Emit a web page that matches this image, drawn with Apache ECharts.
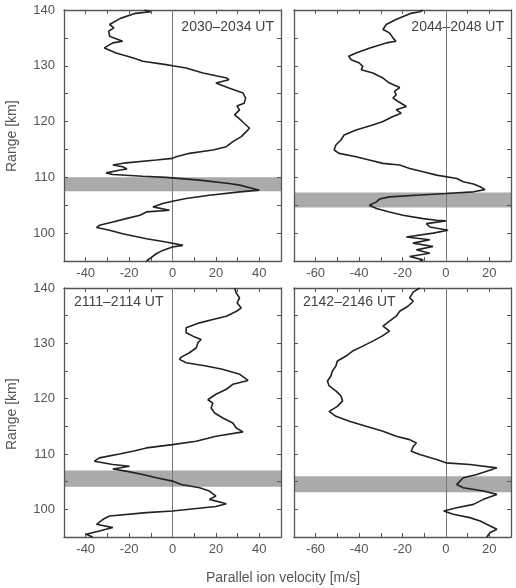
<!DOCTYPE html>
<html>
<head>
<meta charset="utf-8">
<script src="https://cdn.jsdelivr.net/npm/echarts@6/dist/echarts.min.js"></script>
<style>
html,body{margin:0;padding:0;background:#fff}
#chart{width:516px;height:588px}
</style>
</head>
<body>
<div id="chart"></div>
<script>
// altitude (km) and parallel ion velocity (m/s), one pair of arrays per panel
const range1 = [140,139.7,139.4,138.5,137.4,136.8,136.2,135.3,134.4,134.1,133.2,132.3,131.4,130.8,130.2,130,129.6,128.7,127.8,127.5,126.9,126,125.1,124.2,123.3,122.8,122.1,121.2,120.6,119.7,118.8,118.2,117.3,116.4,115.5,114.9,114.3,113.7,113.4,113.1,112.6,112.2,111.9,111.5,111.3,110.8,110.5,110.2,110,109.5,108.9,108.6,108,107.7,107.4,106.8,106.2,105.7,105.3,104.7,104.1,103.8,103.2,102.6,102,101.4,101,100.5,99.9,99,98.4,97.8,97.5,96.9,96.3,95.4,95]
const vel1 = [-13,-10,-17,-24,-29,-27,-29.4,-29,-23,-27.5,-31.4,-26,-18,-13.7,-3,0,6.3,14,25,26,20,26,32.5,33.7,33,29.7,30.9,28.6,30.5,33,35.5,34,31.7,27.8,24.8,18.6,7.8,1.7,0,-7.5,-21.4,-27.5,-23,-21,-24,-30.6,-27.5,-13.7,-3,12.5,26,31,37,40,31,17,6.3,0,-4.5,-9,-1.4,-12,-15,-21.4,-27.5,-33.7,-35,-29,-23,-12,-3,4.8,0,-4.5,-7.5,-10.6,-12]

const range2 = [140,139.7,139.4,138.3,137.4,136.5,135.9,135,134.4,134.1,133.2,132.3,131.7,131.1,130.5,129.9,129.3,128.7,127.8,126.9,126.1,125.4,124.8,124.2,123.6,122.7,122.1,121.5,120.9,120,119.4,118.5,117.6,116.7,115.8,114.9,114.3,113.7,113.1,112.5,112.2,111.6,111,110.4,109.8,109.2,108.8,108.3,107.8,107.4,107.1,106.8,106.5,106.1,105.6,105,104.4,103.8,103.2,102.6,102.3,102.2,101.7,101.1,100.5,100,99.3,98.8,98.2,97.6,97,96.4,95.8,95.2,95]
const vel2 = [-10.5,-12,-16,-23,-27.5,-29,-26,-24.4,-23,-27.5,-35,-41.4,-44.8,-43.6,-39.9,-38.3,-39,-33.7,-29,-26,-21.3,-23.7,-22.9,-24.4,-22,-18.2,-22.9,-20.6,-24.4,-29,-33.7,-41.4,-46.9,-48.4,-50.7,-51.5,-49.2,-41.4,-35.3,-29,-21.3,-16.7,-10.5,-4.3,5,8,12.7,15.8,18,12.7,0,-13.6,-26,-30.6,-32,-35.3,-32,-26,-19.8,-10.5,-4.3,0,-9,-7.4,1,-5.9,-18.2,-7.4,-15.2,-5.9,-13.6,-7.4,-16.7,-10.5,-12]

const range3 = [140,139.1,138.2,137.3,136.4,135.8,134.9,134.3,133.7,132.8,131.9,131.3,130.7,130.1,129.2,128.3,127.5,127.1,126.5,125.9,125.3,124.4,123.3,122.6,121.7,120.8,119.8,119.2,118.3,117.4,116.5,115.6,114.7,114,113.2,112.3,111.7,111.1,110.5,110,109.3,108.7,108.1,107.8,107.3,106.9,106.3,105.7,105.1,104.5,103.9,103.3,102.4,101.8,101,100.5,99.7,99.4,98.8,98.2,97.3,96.7,96.1,95.5,95]
const vel3 = [28.6,29.4,30.9,29.8,31.7,29.5,24.8,18.6,12.5,6.3,6.3,9.4,13.2,11.7,11,7.8,4,3.2,6.3,15.5,23,31,34.8,27.8,24.8,20,16.3,18.6,17.8,19.4,23.2,27.8,29.4,32.5,20,10.9,0,-12,-18.3,-24.5,-33.7,-36,-27.5,-19.8,-27.5,-21.4,-13.7,-7.5,0,4,12.5,17,20,17,24.8,20,0,-12,-29,-32,-35,-27.5,-33.7,-39.8,-36.8]

const range4 = [140,139.3,138.2,137.6,136.7,135.8,134.9,134,133.1,132.2,131.3,130.4,129.5,128.6,127.7,126.8,125.9,125,124.1,123.2,122.3,121.4,120.5,119.6,118.6,117.7,116.8,115.9,115,114.1,113.2,112.6,112,111.4,110.5,109.9,109,108.4,108.1,107.5,106.9,106.3,105.7,105.1,104.5,103.9,103.3,102.7,101.8,100.9,100.3,99.7,99.1,98.5,97.9,97,96.4,95.8,95]
const vel4 = [-12,-15,-16.7,-15,-17.5,-21.3,-22.9,-26,-29,-26,-29.4,-33.7,-38.3,-43,-46,-50,-50.7,-52.3,-53,-54.6,-53.8,-50.7,-48.4,-47.6,-50,-53.8,-50.7,-44.5,-36.8,-29,-22.9,-16.7,-13.6,-15,-16,-12,-4.3,0,11,23.5,18.8,14.2,8,6.5,5,8,17.3,23.5,17.3,12.7,5,-1,3.4,11,15.8,20.4,23.5,20.4,18.8]

// shaded altitude bands [bottom, top] per panel
const bands = [[107.5,110],[104.6,107.3],[104.1,107],[103.1,106]]
const titles = ['2030–2034 UT','2044–2048 UT','2111–2114 UT','2142–2146 UT']
const xMins = [-50,-70,-50,-70]
const xMaxs = [50,30,50,30]

const ranges = [range1,range2,range3,range4]
const vels = [vel1,vel2,vel3,vel4]

const gridPos = [
    {left:64,top:10,width:217,height:251},
    {left:294,top:10,width:217,height:251},
    {left:64,top:288,width:217,height:249},
    {left:294,top:288,width:217,height:249}
]

const frameColor = '#555'
const labelStyle = {color:'#555',fontSize:13,fontFamily:'Liberation Sans, Arial, sans-serif'}

const grids = []
const xAxes = []
const yAxes = []
const series = []

gridPos.forEach((g,i)=>{
    grids.push(g)
    const common = {
        type:'value',
        gridIndex:i,
        interval:10,
        splitLine:{show:false},
        axisLine:{show:true,onZero:false,lineStyle:{color:frameColor,width:1.3}},
        axisTick:{show:true,inside:true,length:4,lineStyle:{color:frameColor}}
    }
    // bottom x axis with labels, top one only for the frame + ticks
    xAxes.push(Object.assign({},common,{
        min:xMins[i],max:xMaxs[i],position:'bottom',
        axisLabel:Object.assign({margin:6,formatter:v=>(v%20===0?String(v):'')},labelStyle)
    }))
    xAxes.push(Object.assign({},common,{
        min:xMins[i],max:xMaxs[i],position:'top',axisLabel:{show:false}
    }))
    const showY = (i%2===0)
    yAxes.push(Object.assign({},common,{
        min:95,max:140,interval:5,position:'left',
        axisLabel:Object.assign({show:showY,margin:9,formatter:v=>(v%10===0?String(v):'')},labelStyle)
    }))
    yAxes.push(Object.assign({},common,{
        min:95,max:140,interval:5,position:'right',axisLabel:{show:false}
    }))

    // band layer underneath
    series.push({
        type:'line',
        xAxisIndex:i*2,
        yAxisIndex:i*2,
        data:[[0,95]],
        symbol:'none',
        lineStyle:{opacity:0},
        silent:true,
        z:1,
        markArea:{
            silent:true,
            z:0,
            itemStyle:{color:'#aaaaaa'},
            data:[[{yAxis:bands[i][0]},{yAxis:bands[i][1]}]]
        }
    })
    // velocity profile on its own layer so it sits above the band
    series.push({
        type:'line',
        xAxisIndex:i*2,
        yAxisIndex:i*2,
        data:vels[i].map((v,k)=>[v,ranges[i][k]]),
        symbol:'none',
        zlevel:1,
        z:3,
        lineStyle:{color:'#222',width:1.6},
        markLine:{
            silent:true,
            symbol:'none',
            label:{show:false},
            lineStyle:{color:'#777',width:1,type:'solid'},
            data:[{xAxis:0}]
        }
    })
})

const chart = echarts.init(document.getElementById('chart'))
chart.setOption({
    animation:false,
    backgroundColor:'#fff',
    grid:grids,
    xAxis:xAxes,
    yAxis:yAxes,
    series:series,
    graphic:[
        {type:'text',right:242,top:20,style:{text:titles[0],fill:'#444',fontSize:14,fontFamily:'Liberation Sans',textAlign:'right'}},
        {type:'text',right:12,top:20,style:{text:titles[1],fill:'#444',fontSize:14,fontFamily:'Liberation Sans'}},
        {type:'text',left:74,top:295,style:{text:titles[2],fill:'#444',fontSize:14,fontFamily:'Liberation Sans'}},
        {type:'text',left:303,top:295,style:{text:titles[3],fill:'#444',fontSize:14,fontFamily:'Liberation Sans'}},
        {type:'text',x:5,y:172,rotation:Math.PI/2,style:{text:'Range [km]',fill:'#555',fontSize:14,fontFamily:'Liberation Sans'}},
        {type:'text',x:5,y:450,rotation:Math.PI/2,style:{text:'Range [km]',fill:'#555',fontSize:14,fontFamily:'Liberation Sans'}},
        {type:'text',left:206,top:571,style:{text:'Parallel ion velocity [m/s]',fill:'#555',fontSize:14,fontFamily:'Liberation Sans'}}
    ]
})
</script>
</body>
</html>
